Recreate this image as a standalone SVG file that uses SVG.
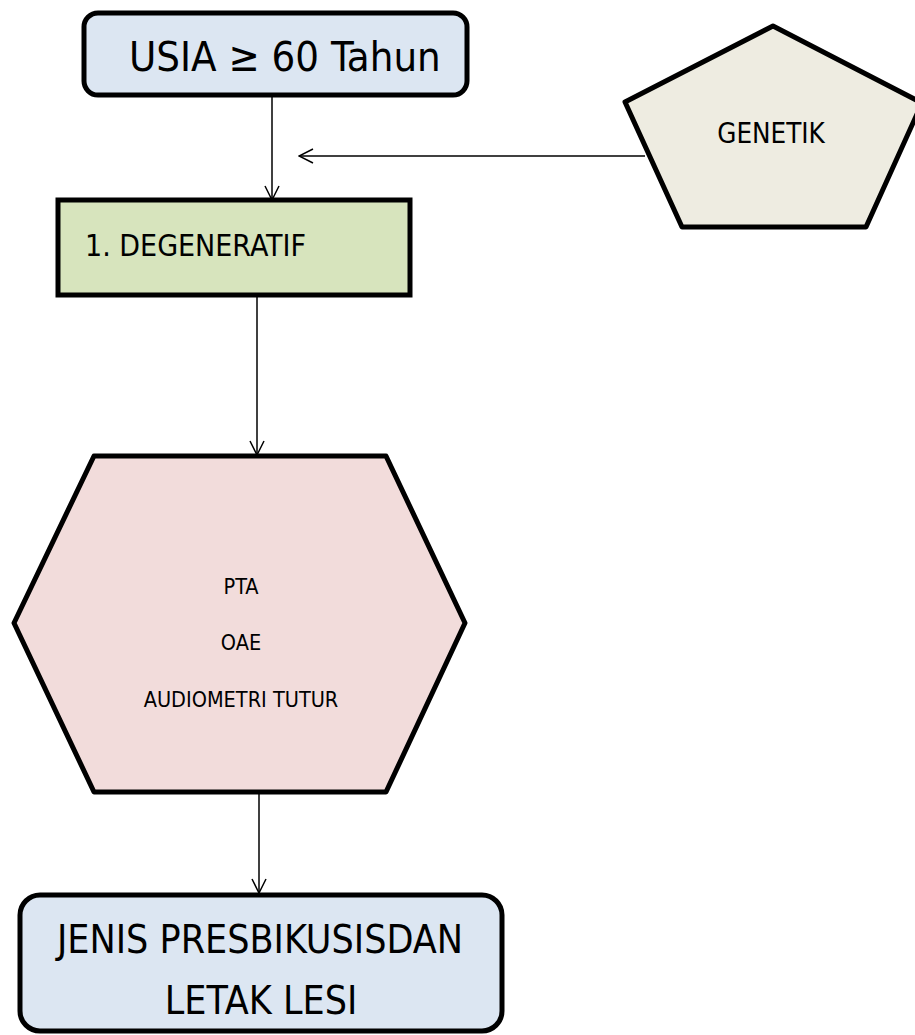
<svg xmlns="http://www.w3.org/2000/svg" width="915" height="1035" viewBox="0 0 915 1035">
<defs>
<style>
.box{stroke:#000;stroke-width:5;stroke-linejoin:round}
.t{font-family:"DejaVu Sans Condensed","DejaVu Sans",sans-serif;font-stretch:condensed;fill:#000}
.c{fill:none;stroke:#000;stroke-width:1.5}
</style>
<marker id="ah" viewBox="0 0 16 16" refX="15" refY="8" markerWidth="16" markerHeight="16" markerUnits="userSpaceOnUse" orient="auto">
<path d="M1,1 L15,8 L1,15" fill="none" stroke="#000" stroke-width="1.5"/>
</marker>
</defs>
<rect width="915" height="1035" fill="#fff"/>
<g id="connectors">
<line class="c" x1="272" y1="95" x2="272" y2="200" marker-end="url(#ah)"/>
<line class="c" x1="645" y1="156" x2="299" y2="156" marker-end="url(#ah)"/>
<line class="c" x1="257" y1="295" x2="257" y2="455" marker-end="url(#ah)"/>
<line class="c" x1="259" y1="792" x2="259" y2="893" marker-end="url(#ah)"/>
</g>
<g id="usia">
<rect class="box" x="84" y="13" width="383" height="82" rx="14" fill="#dce6f2"/>
<text class="t" x="129" y="71" font-size="41.5">USIA ≥ 60 Tahun</text>
</g>
<g id="genetik">
<polygon class="box" points="773,26 922,103 866,227 682,227 625,102" fill="#eeece1"/>
<text class="t" x="771" y="143" font-size="27.5" text-anchor="middle">GENETIK</text>
</g>
<g id="degeneratif">
<rect x="58" y="200" width="352" height="95" fill="#d7e4bd" stroke="#000" stroke-width="5"/>
<text class="t" x="85" y="256" font-size="30">1. DEGENERATIF</text>
</g>
<g id="tes">
<polygon class="box" points="94,456 386,456 465,623 386,792 94,792 14,623" fill="#f2dcdb"/>
<text class="t" x="241" y="594" font-size="21.5" text-anchor="middle">PTA</text>
<text class="t" x="241" y="650" font-size="21.5" text-anchor="middle">OAE</text>
<text class="t" x="241" y="707" font-size="21.5" text-anchor="middle">AUDIOMETRI TUTUR</text>
</g>
<g id="jenis">
<rect class="box" x="20" y="895" width="482" height="136" rx="20" fill="#dce6f2"/>
<text class="t" x="260" y="953" font-size="39" text-anchor="middle">JENIS PRESBIKUSISDAN</text>
<text class="t" x="261" y="1014" font-size="39" text-anchor="middle">LETAK LESI</text>
</g>
</svg>
